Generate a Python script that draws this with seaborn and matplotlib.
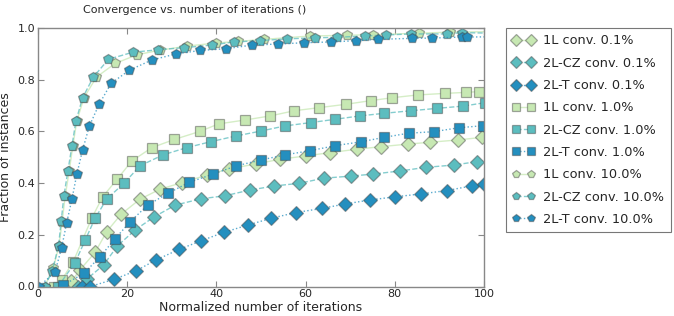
import matplotlib
matplotlib.use("Agg")
import matplotlib.pyplot as plt
import seaborn as sns
import pandas as pd

# ---- data -------------------------------------------------------------
x_1l_01 = [7.5, 9.4, 12.8, 15.4, 18.6, 22.8, 27.3, 32.3, 37.9, 42.8, 48.8, 54.2, 60.0, 65.5, 71.5, 76.9, 83.0, 87.9, 94.2, 99.6]
y_1l_01 = [0.02, 0.064, 0.132, 0.212, 0.279, 0.337, 0.376, 0.402, 0.431, 0.455, 0.474, 0.492, 0.505, 0.518, 0.531, 0.541, 0.551, 0.558, 0.567, 0.577]

x_cz_01 = [9.0, 10.9, 14.7, 17.8, 21.8, 26.1, 30.8, 36.5, 41.9, 47.5, 53.0, 58.5, 64.1, 70.1, 75.2, 81.2, 87.0, 93.3, 98.4, 102.0]
y_cz_01 = [0.0, 0.028, 0.083, 0.157, 0.219, 0.270, 0.315, 0.339, 0.351, 0.373, 0.389, 0.399, 0.419, 0.427, 0.435, 0.447, 0.461, 0.470, 0.483, 0.488]

x_t_01 = [9.8, 11.7, 17.1, 22.0, 26.5, 31.7, 36.6, 41.6, 47.1, 52.3, 57.8, 63.6, 68.8, 74.5, 80.1, 85.8, 91.6, 97.2, 99.9]
y_t_01 = [0.0, 0.0, 0.028, 0.061, 0.103, 0.144, 0.177, 0.209, 0.238, 0.264, 0.286, 0.302, 0.319, 0.335, 0.347, 0.358, 0.371, 0.389, 0.397]

x_1l_1 = [3.5, 5.3, 7.9, 12.1, 14.5, 17.8, 21.0, 25.5, 30.6, 36.3, 40.5, 46.4, 52.1, 57.5, 63.1, 69.1, 74.6, 79.3, 85.1, 91.2, 96.0, 98.8]
y_1l_1 = [0.0, 0.025, 0.096, 0.266, 0.347, 0.416, 0.485, 0.537, 0.569, 0.600, 0.629, 0.644, 0.660, 0.680, 0.692, 0.705, 0.719, 0.730, 0.741, 0.747, 0.751, 0.754]

x_cz_1 = [4.5, 8.3, 10.6, 12.8, 15.4, 19.3, 22.9, 28.0, 33.3, 38.7, 44.3, 49.9, 55.3, 61.1, 66.7, 72.2, 77.6, 83.7, 89.4, 95.4, 100.2]
y_cz_1 = [0.0, 0.092, 0.180, 0.264, 0.338, 0.400, 0.467, 0.509, 0.537, 0.560, 0.582, 0.601, 0.621, 0.634, 0.647, 0.660, 0.670, 0.680, 0.689, 0.698, 0.711]

x_t_1 = [5.7, 10.3, 13.9, 17.3, 20.7, 24.6, 29.1, 33.9, 39.3, 44.3, 49.9, 55.3, 60.9, 66.7, 72.5, 77.6, 83.1, 88.8, 94.3, 99.7]
y_t_1 = [0.006, 0.051, 0.115, 0.185, 0.251, 0.315, 0.360, 0.403, 0.435, 0.466, 0.489, 0.509, 0.525, 0.545, 0.560, 0.577, 0.593, 0.599, 0.614, 0.622]

x_1l_10 = [1.5, 3.4, 4.7, 5.4, 6.1, 7.0, 7.8, 8.7, 10.3, 13.1, 17.3, 22.3, 27.3, 33.4, 40.0, 44.8, 50.6, 61.0, 69.3, 75.2, 85.5, 92.4, 102.0]
y_1l_10 = [0.0, 0.070, 0.157, 0.250, 0.350, 0.447, 0.543, 0.640, 0.730, 0.810, 0.863, 0.897, 0.914, 0.930, 0.942, 0.948, 0.956, 0.969, 0.972, 0.974, 0.980, 0.984, 0.986]

x_cz_10 = [1.5, 3.2, 4.6, 5.2, 5.8, 6.7, 7.6, 8.5, 10.0, 12.4, 15.8, 21.2, 27.0, 32.8, 39.0, 43.9, 49.7, 55.9, 62.1, 67.0, 73.3, 78.0, 83.6, 91.8, 95.0, 102.0]
y_cz_10 = [0.0, 0.060, 0.157, 0.253, 0.350, 0.447, 0.543, 0.640, 0.730, 0.810, 0.879, 0.906, 0.916, 0.924, 0.934, 0.946, 0.951, 0.958, 0.962, 0.964, 0.969, 0.973, 0.977, 0.977, 0.982, 0.980]

x_t_10 = [0.2, 3.8, 5.3, 6.4, 7.6, 8.7, 10.0, 11.5, 13.7, 16.4, 20.5, 25.5, 31.0, 36.3, 42.2, 48.0, 53.9, 59.6, 65.6, 71.4, 76.3, 83.8, 88.3, 95.0, 96.3, 102.0]
y_t_10 = [0.0, 0.055, 0.150, 0.244, 0.337, 0.434, 0.528, 0.620, 0.705, 0.786, 0.837, 0.876, 0.900, 0.913, 0.920, 0.934, 0.938, 0.943, 0.946, 0.951, 0.956, 0.960, 0.961, 0.965, 0.965, 0.966]

labels = ["1L conv. 0.1%", "2L-CZ conv. 0.1%", "2L-T conv. 0.1%",
          "1L conv. 1.0%", "2L-CZ conv. 1.0%", "2L-T conv. 1.0%",
          "1L conv. 10.0%", "2L-CZ conv. 10.0%", "2L-T conv. 10.0%"]
xs = [x_1l_01, x_cz_01, x_t_01, x_1l_1, x_cz_1, x_t_1, x_1l_10, x_cz_10, x_t_10]
ys = [y_1l_01, y_cz_01, y_t_01, y_1l_1, y_cz_1, y_t_1, y_1l_10, y_cz_10, y_t_10]

# ---- style ------------------------------------------------------------
sns.set_style("ticks")
plt.rcParams['font.family'] = ['DejaVu Sans']

colors = {"1L": (0.78, 0.91, 0.70), "2L-CZ": (0.36, 0.74, 0.75), "2L-T": (0.14, 0.56, 0.75)}
lstyles = {"1L": "-", "2L-CZ": "--", "2L-T": ":"}
markers = {"0.1%": ("D", 7.5), "1.0%": ("s", 7.0), "10.0%": ("p", 7.0)}

fig = plt.figure(figsize=(6.74, 3.16), dpi=100)
ax = fig.add_axes([38 / 674, 1 - 286.5 / 316, 446 / 674, 258.5 / 316])

for lab, x, y in zip(labels, xs, ys):
    kind = lab.split(" ")[0]
    pct = lab.split(" ")[-1]
    c = colors[kind]
    m, ms = markers[pct]
    df = pd.DataFrame({"x": x, "y": y})
    sns.lineplot(data=df, x="x", y="y", ax=ax, sort=False, label=lab,
                 color=c + (0.75,), linestyle=lstyles[kind], linewidth=1.0,
                 marker=m, markersize=ms, markerfacecolor=c,
                 markeredgecolor=(0.25, 0.25, 0.25, 0.45), markeredgewidth=0.9)

ax.set_xlim(0, 100)
ax.set_ylim(0, 1.0)
ax.set_xticks([0, 20, 40, 60, 80, 100])
ax.set_yticks([0.0, 0.2, 0.4, 0.6, 0.8, 1.0])
ax.set_yticklabels(["0.0", "0.2", "0.4", "0.6", "0.8", "1.0"])
ax.tick_params(direction="in", top=True, right=True, labelsize=8, length=4,
               color="#888888", pad=2)
for s in ax.spines.values():
    s.set_color("#888888")
    s.set_linewidth(1.0)
ax.set_xlabel("Normalized number of iterations", fontsize=9, labelpad=1)
ax.set_ylabel("Fraction of instances", fontsize=9, labelpad=4)
fig.text(195 / 674, 1 - 10 / 316, "Convergence vs. number of iterations ()",
         fontsize=8, ha="center", va="center")

leg = ax.legend(loc="upper left", bbox_to_anchor=((506 - 38) / 446, 1.0),
                borderaxespad=0, fontsize=9.3, numpoints=2, frameon=True,
                fancybox=False, handlelength=1.7, labelspacing=0.72,
                borderpad=0.5, handletextpad=0.7, markerscale=0.8)
leg.get_frame().set_edgecolor("#555555")
leg.get_frame().set_linewidth(0.8)

fig.savefig("out.png", dpi=100)
